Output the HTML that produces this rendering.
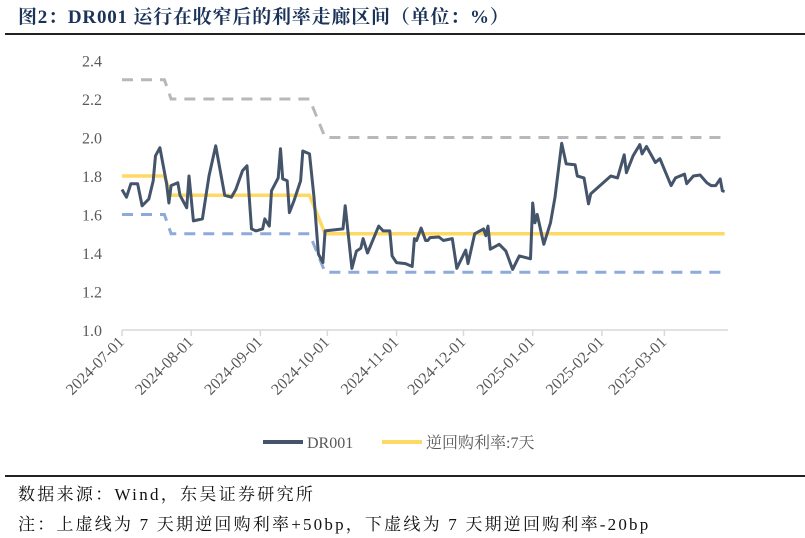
<!DOCTYPE html>
<html><head><meta charset="utf-8"><style>
body{margin:0;width:805px;height:538px;background:#fff;overflow:hidden;position:relative;font-family:"Liberation Serif","Noto Serif CJK SC",serif;}
#title{position:absolute;left:18px;top:2px;font-size:19px;font-weight:bold;color:#1b3358;letter-spacing:0.8px;white-space:nowrap;}
.rule{position:absolute;left:5px;right:0;height:2px;background:#222;}
.foot{position:absolute;left:18px;font-size:17px;color:#111;white-space:nowrap;letter-spacing:2.2px;}
</style></head><body>
<div id="title">图2：DR001 运行在收窄后的利率走廊区间（单位：%）</div>
<div class="rule" style="top:33px"></div>
<svg id="chart" width="805" height="538" style="position:absolute;left:0;top:0"></svg>
<div class="rule" style="top:475px;height:1.5px"></div>
<div class="foot" style="top:480px;letter-spacing:2.3px">数据来源：Wind，东吴证券研究所</div>
<div class="foot" style="top:510px">注：上虚线为 7 天期逆回购利率+50bp，下虚线为 7 天期逆回购利率-20bp</div>
<script>
const yTicks=[1.0,1.2,1.4,1.6,1.8,2.0,2.2,2.4];
const xTickLabels=["2024-07-01","2024-08-01","2024-09-01","2024-10-01","2024-11-01","2024-12-01","2025-01-01","2025-02-01","2025-03-01"];
const xTickDays=[0,31,62,92,123,153,184,215,243];
const drDays=[0,2,4,7,9,12,14,15,17,20,21,22,25,26,29,30,32,36,39,42,46,49,51,54,56,58,60,63,64,66,67,70,71,72,74,75,77,80,81,84,86,88,90,91,99,100,103,105,107,108,110,115,117,120,121,123,127,130,131,132,134,136,137,138,142,144,148,150,154,155,158,162,163,164,165,169,172,175,178,183,184,185,186,189,192,194,197,199,203,204,207,209,210,219,222,225,226,229,232,233,235,239,241,246,248,252,253,256,259,262,264,266,268,269,270];
const drValues=[1.73,1.69,1.76,1.76,1.645,1.68,1.775,1.905,1.947,1.76,1.66,1.75,1.765,1.70,1.635,1.80,1.567,1.577,1.80,1.957,1.70,1.69,1.73,1.827,1.853,1.525,1.515,1.525,1.577,1.54,1.723,1.79,1.942,1.785,1.775,1.61,1.67,1.775,1.93,1.915,1.69,1.395,1.35,1.515,1.525,1.645,1.32,1.41,1.425,1.475,1.40,1.54,1.515,1.515,1.385,1.35,1.345,1.33,1.475,1.465,1.53,1.465,1.465,1.48,1.483,1.465,1.475,1.32,1.415,1.345,1.50,1.525,1.49,1.54,1.42,1.445,1.41,1.315,1.385,1.37,1.66,1.557,1.60,1.445,1.557,1.69,1.97,1.863,1.858,1.80,1.79,1.655,1.707,1.80,1.79,1.91,1.817,1.905,1.963,1.915,1.953,1.87,1.89,1.75,1.79,1.81,1.76,1.80,1.805,1.765,1.75,1.75,1.785,1.723,1.72];
const repoDays=[0,19,22,84,91,270];
const repoValues=[1.8,1.8,1.7,1.7,1.5,1.5];
const upperValues=[2.3,2.3,2.2,2.2,2.0,2.0];
const lowerValues=[1.6,1.6,1.5,1.5,1.3,1.3];

const NS="http://www.w3.org/2000/svg";
const svg=document.getElementById('chart');
const X=d=>122+d*2.232;
const Y=v=>330-(v-1)*192.5;
function mk(t,a){const e=document.createElementNS(NS,t);for(const k in a)e.setAttribute(k,a[k]);svg.appendChild(e);return e;}
const ax=mk('line',{x1:122,y1:330,x2:728,y2:330,stroke:'#d9d9d9','stroke-width':1.5});


yTicks.forEach(v=>{const t=mk('text',{x:102,y:Y(v)+6,'text-anchor':'end','font-size':16,fill:'#595959','font-family':'Liberation Serif'});t.textContent=v.toFixed(1);

});
xTickDays.forEach((d,i)=>{const x=X(d);
const tk=mk('line',{x1:x,y1:330,x2:x,y2:336,stroke:'#d9d9d9','stroke-width':1.5});


const t=mk('text',{x:x+3,y:343,'text-anchor':'end','font-size':16,fill:'#595959','font-family':'Liberation Serif',transform:`rotate(-45 ${x+3} 343)`});t.textContent=xTickLabels[i];

});
function line(days,vals,attrs,name){const p=days.map((d,i)=>`${i?'L':'M'}${X(d).toFixed(1)},${Y(vals[i]).toFixed(1)}`).join('');const e=mk('path',Object.assign({d:p,fill:'none'},attrs));

}
line(repoDays,upperValues,{stroke:'#b8b8b8','stroke-width':3,'stroke-dasharray':'11,8'},'upper-corridor-line');
line(repoDays,lowerValues,{stroke:'#8eaadb','stroke-width':3,'stroke-dasharray':'11,8'},'lower-corridor-line');
line(repoDays,repoValues,{stroke:'#ffd966','stroke-width':3.5},'reverse-repo-line');
line(drDays,drValues,{stroke:'#44546a','stroke-width':3,'stroke-linejoin':'round'},'dr001-line');
const l1=mk('line',{x1:263,y1:442,x2:303,y2:442,stroke:'#44546a','stroke-width':4});


const t1=mk('text',{x:307,y:448,'font-size':16,fill:'#595959','font-family':'Liberation Serif'});t1.textContent='DR001';


const l2=mk('line',{x1:382,y1:442,x2:422,y2:442,stroke:'#ffd966','stroke-width':4});


const t2=mk('text',{x:426,y:448,'font-size':16,fill:'#595959','font-family':'Liberation Serif, Noto Serif CJK SC, serif'});t2.textContent='逆回购利率:7天';


</script>
</body></html>
